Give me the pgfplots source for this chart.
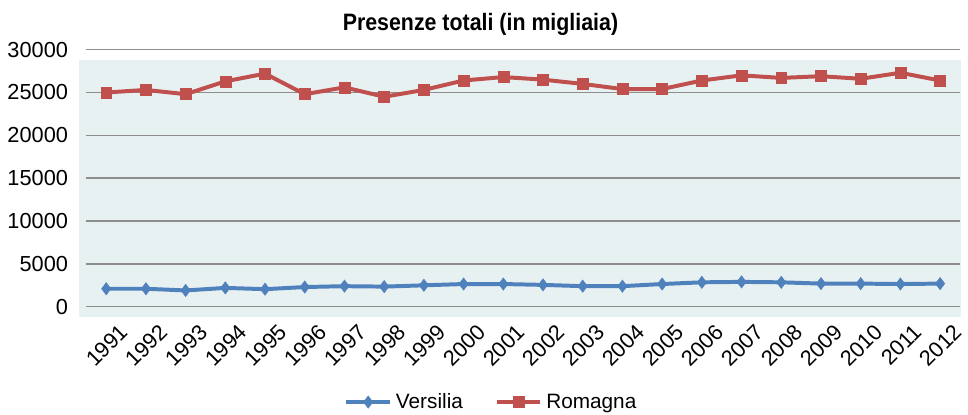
\documentclass[border=0pt]{standalone}
\usepackage{pgfplots}
\pgfplotsset{compat=1.18}
\usepackage{fontspec}
\setmainfont{Liberation Sans}
\definecolor{vblue}{HTML}{4F81BD}
\definecolor{rred}{HTML}{C0504D}
\definecolor{bgc}{HTML}{E8F1F2}
\definecolor{gridc}{HTML}{8E8E8E}
\begin{document}
\begin{tikzpicture}[x=1bp,y=1bp]
\begin{axis}[
  name=ax, at={(0,0)}, anchor=south west,
  scale only axis, width=880bp, height=259bp,
  set layers=standard, clip=false,
  xmin=1990.5, xmax=2012.5, ymin=0, ymax=30000,
  axis line style={draw=none},
  major tick length=0pt,
  xtick={1991,...,2012},
  ytick={0,5000,...,30000},
  ymajorgrids, grid style={gridc, line width=1.5bp},
  scaled y ticks=false,
  /pgf/number format/.cd, 1000 sep={}, assume math mode=true,
  /pgfplots/.cd,
  tick label style={font=\fontsize{22}{26}\selectfont, text=black},
  yticklabel style={xshift=-15bp},
  xticklabel style={rotate=45, anchor=east, yshift=-28bp, xshift=1bp},
  legend columns=2,
  legend style={draw=none, fill=none, at={(0.4636,-0.3707)}, anchor=center,
    font=\fontsize{21}{24}\selectfont, column sep=2bp,
    /tikz/every even column/.append style={column sep=30bp}},
  legend image code/.code={\draw[mark repeat=2,mark phase=2,#1] plot coordinates {(0bp,0bp) (22bp,0bp) (44bp,0bp)};},
]
\begin{pgfonlayer}{axis background}
\fill[bgc] (axis cs:1990.325,-1158) rectangle (axis cs:2012.525,28843);
\end{pgfonlayer}
\addplot[vblue, line width=4bp, mark=diamond*, mark size=6.2bp, mark options={solid, line width=0.5bp}] coordinates {
(1991,2100) (1992,2100) (1993,1900) (1994,2200) (1995,2050) (1996,2300)
(1997,2400) (1998,2350) (1999,2500) (2000,2650) (2001,2650) (2002,2550)
(2003,2400) (2004,2400) (2005,2650) (2006,2850) (2007,2900) (2008,2850)
(2009,2700) (2010,2700) (2011,2650) (2012,2700)};
\addlegendentry{Versilia}
\addplot[rred, line width=4bp, mark=square*, mark size=5.5bp, mark options={solid, line width=0.5bp}] coordinates {
(1991,25000) (1992,25300) (1993,24800) (1994,26300) (1995,27200) (1996,24800)
(1997,25600) (1998,24500) (1999,25300) (2000,26400) (2001,26800) (2002,26500)
(2003,26000) (2004,25400) (2005,25400) (2006,26400) (2007,27000) (2008,26700)
(2009,26900) (2010,26600) (2011,27300) (2012,26400)};
\addlegendentry{Romagna}
\end{axis}
\node[anchor=base, inner sep=0pt, font=\fontsize{24}{28}\selectfont\bfseries] at (397,278.3) {\scalebox{0.9}[1]{Presenze totali (in migliaia)}};
\useasboundingbox (-87,-109) rectangle (881,309);
\end{tikzpicture}
\end{document}
